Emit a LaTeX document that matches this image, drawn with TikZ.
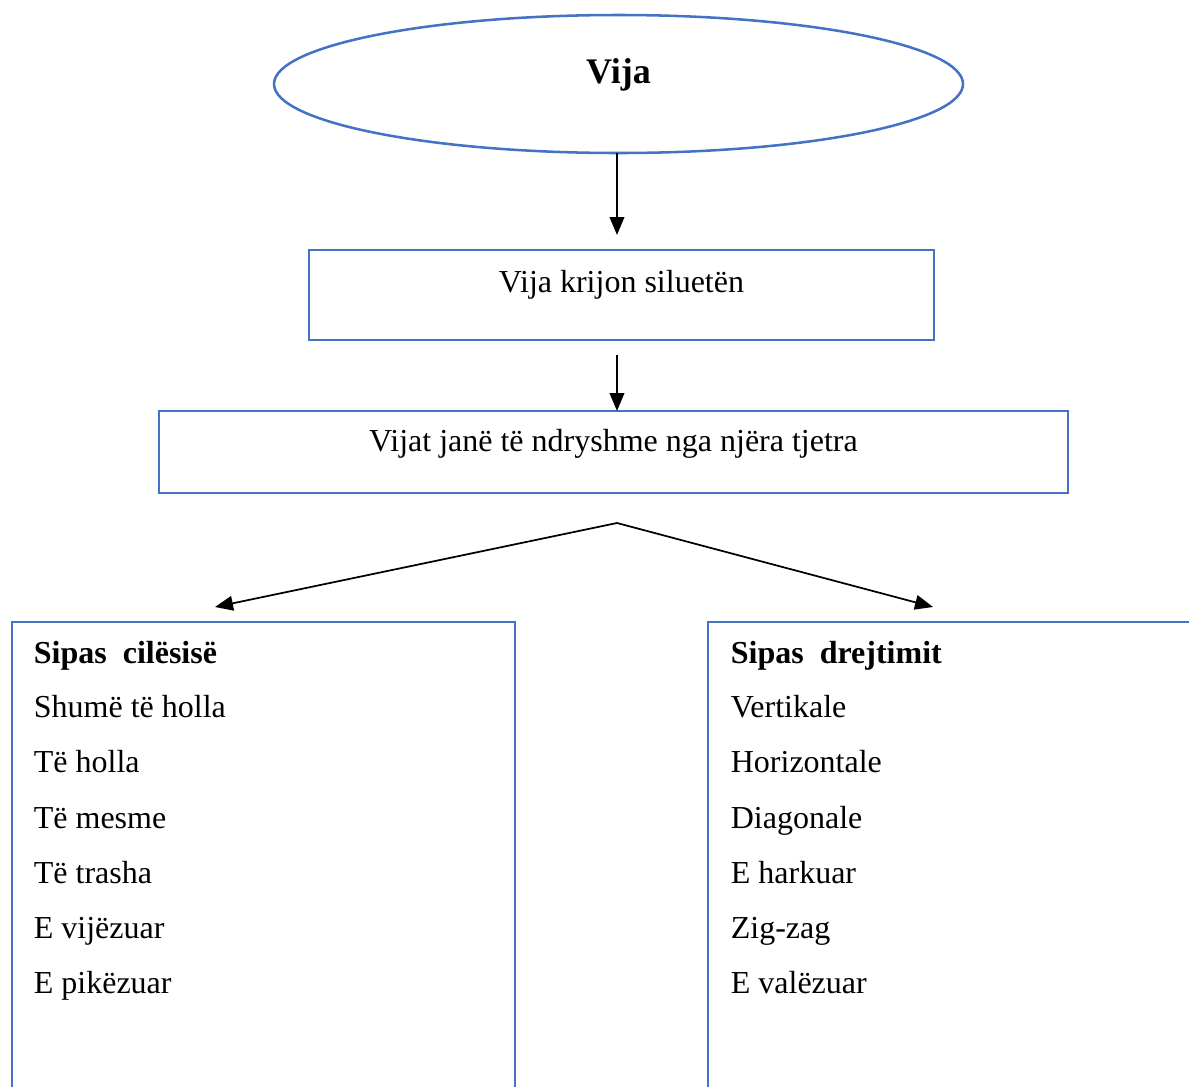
\documentclass[tikz,border=0pt]{standalone}
\usepackage{fontspec}
\setmainfont{Liberation Serif}
\usetikzlibrary{shapes.geometric}
\usetikzlibrary{arrows.meta}
\definecolor{boxblue}{HTML}{4472C4}
\tikzset{
	blueline/.style={draw=boxblue, line width=1.9pt, inner sep=0pt, outer sep=0pt},
	listtext/.style={anchor=base west, inner sep=0pt, font=\fontsize{24}{28}\selectfont},
	boxtext/.style={anchor=base, inner sep=0pt, font=\fontsize{24}{28}\selectfont},
}

\begin{document}
\begin{tikzpicture}[x=0.75pt, y=-0.75pt, >={Triangle[length=13.5pt,width=11pt]}, line width=1.3pt]
		\useasboundingbox (0,0) rectangle (1189,1086);
		\clip (0,0) rectangle (1189,1086);
		\node [blueline, ellipse, minimum width=516.75pt, minimum height=103.5pt] (oval) at (618.5,84) {};
		\node [boxtext, font=\fontsize{27}{30}\selectfont\bfseries] (vija) at (618.5,83) {Vija};
		\node [blueline, rectangle, minimum width=468.75pt, minimum height=67.5pt] (silueta) at (621.5,295) {};
		\node [boxtext] (siluetatext) at (621.5,292) {Vija krijon siluetën};
		\node [blueline, rectangle, minimum width=681.75pt, minimum height=61.5pt] (ndryshme) at (613.5,452) {};
		\node [boxtext] (ndryshmetext) at (613.5,451) {Vijat janë të ndryshme nga njëra tjetra};
		\node [blueline, rectangle, minimum width=377.25pt, minimum height=381pt] (cilesia) at (263.5,876) {};
		\node [blueline, rectangle, minimum width=391.5pt, minimum height=381pt] (drejtimi) at (969,876) {};
		\draw [->, shorten >=11.25pt] (oval.south -| 617,0) -- (617,0 |- silueta.north);
		\draw [->, shorten <=11.25pt] (617,0 |- silueta.south) -- (617,0 |- ndryshme.north);
		\coordinate (split) at (617,523);
		\coordinate (lefttip) at (215,607);
		\coordinate (righttip) at (933,607);
		\draw [->] (split) -- (lefttip);
		\draw [->] (split) -- (righttip);
		\node [listtext, font=\fontsize{24}{28}\selectfont\bfseries] (c0) at (33,663) {Sipas~~cilësisë};
		\node [listtext] (c1) at (33,717) {Shumë të holla};
		\node [listtext] (c2) at (33,772) {Të holla};
		\node [listtext] (c3) at (33,828) {Të mesme};
		\node [listtext] (c4) at (33,883) {Të trasha};
		\node [listtext] (c5) at (33,938) {E vijëzuar};
		\node [listtext] (c6) at (33,993) {E pikëzuar};
		\node [listtext, font=\fontsize{24}{28}\selectfont\bfseries] (d0) at (730,663) {Sipas~~drejtimit};
		\node [listtext] (d1) at (730,717) {Vertikale};
		\node [listtext] (d2) at (730,772) {Horizontale};
		\node [listtext] (d3) at (730,828) {Diagonale};
		\node [listtext] (d4) at (730,883) {E harkuar};
		\node [listtext] (d5) at (730,938) {Zig-zag};
		\node [listtext] (d6) at (730,993) {E valëzuar};
	\end{tikzpicture}
\end{document}
